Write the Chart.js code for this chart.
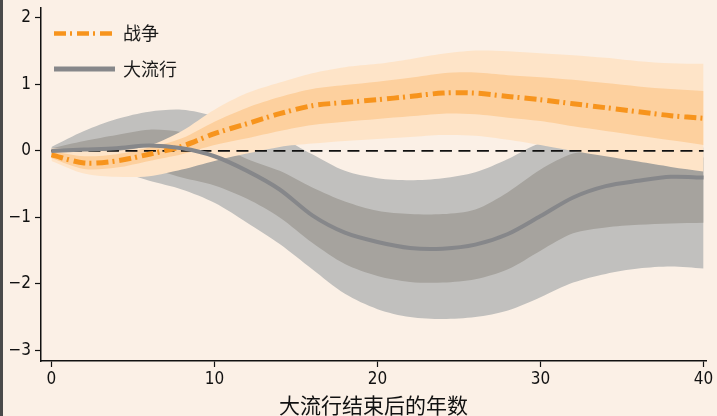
<!DOCTYPE html>
<html><head><meta charset="utf-8">
<script src="https://cdn.jsdelivr.net/npm/chart.js@4/dist/chart.umd.min.js"></script>
<style>html,body{margin:0;padding:0;background:#FBF0E6;}canvas{display:block;}</style>
</head><body>
<canvas id="c" width="717" height="416"></canvas>
<script>
const years = [0,2,4,6,8,10,12,14,16,18,20,22,24,26,28,30,32,34,36,38,40];
const xTicks = [0,10,20,30,40];
const yTicks = [-3,-2,-1,0,1,2];
const seriesNames = ['战争','大流行'];
const xTitle = '大流行结束后的年数';

const warMean    = [-0.06,-0.18,-0.15,-0.05,0.07,0.26,0.41,0.56,0.68,0.73,0.77,0.82,0.87,0.87,0.82,0.77,0.71,0.65,0.59,0.53,0.49];
const warDarkHi  = [0.00,-0.08,-0.05,0.05,0.19,0.44,0.65,0.81,0.93,0.99,1.04,1.10,1.17,1.18,1.14,1.11,1.07,1.02,0.97,0.93,0.90];
const warDarkLo  = [-0.11,-0.27,-0.25,-0.15,-0.05,0.09,0.19,0.30,0.39,0.44,0.48,0.52,0.56,0.55,0.50,0.45,0.37,0.30,0.23,0.16,0.09];
const warLightHi = [0.04,0.01,0.00,0.08,0.30,0.62,0.87,1.03,1.17,1.26,1.31,1.38,1.46,1.51,1.50,1.47,1.44,1.40,1.35,1.32,1.31];
const warLightLo = [-0.15,-0.34,-0.39,-0.38,-0.28,-0.15,-0.04,0.06,0.11,0.15,0.18,0.21,0.24,0.23,0.17,0.09,0.00,-0.08,-0.16,-0.24,-0.31];

const panMean    = [0.00,0.02,0.04,0.08,0.04,-0.08,-0.30,-0.58,-0.97,-1.23,-1.37,-1.46,-1.47,-1.41,-1.25,-0.98,-0.70,-0.53,-0.45,-0.39,-0.40];
const panDarkHi  = [0.04,0.15,0.24,0.32,0.28,0.12,-0.12,-0.30,-0.55,-0.76,-0.90,-0.95,-0.95,-0.88,-0.62,-0.28,-0.04,0.00,0.00,-0.05,-0.10];
const panDarkLo  = [-0.04,-0.10,-0.16,-0.26,-0.40,-0.52,-0.72,-1.00,-1.38,-1.70,-1.88,-1.97,-1.98,-1.93,-1.78,-1.50,-1.24,-1.15,-1.11,-1.09,-1.08];
const panLightHi = [0.06,0.30,0.48,0.59,0.62,0.52,0.30,0.20,-0.05,-0.30,-0.41,-0.44,-0.41,-0.32,-0.12,0.12,0.20,0.20,0.15,0.10,0.05];
const panLightLo = [-0.06,-0.17,-0.30,-0.45,-0.58,-0.78,-1.08,-1.40,-1.78,-2.15,-2.38,-2.50,-2.53,-2.50,-2.40,-2.20,-1.98,-1.85,-1.77,-1.74,-1.77];
const zeroLine = years.map(() => 0);

const C = {
  bg:'#FBF0E6', orange:'#F7941D', gray:'#86878A',
  oLight:'#FEE4C8', oDark:'#FDD09E', gLight:'#C1C0BE', gDark:'#A6A39E'
};
const pts = arr => years.map((x,i) => ({x, y: arr[i]}));
const band = (arr, color, fillTo, order) => ({
  data: pts(arr), borderWidth: 0, pointRadius: 0, tension: 0.3,
  backgroundColor: color, fill: fillTo === null ? false : fillTo, order
});
const TICK_FONT = {family:"'Liberation Sans Narrow','DejaVu Sans Condensed','Arial Narrow',sans-serif", size:17};

const datasets = [
  /*0*/ {label:seriesNames[1], data: pts(panMean), borderColor:C.gray, borderWidth:4, pointRadius:0, tension:0.3, fill:false, order:1},
  /*1*/ {label:seriesNames[0], data: pts(warMean), borderColor:C.orange, borderWidth:5, borderDash:[12,4,2,5], pointRadius:0, tension:0.3, fill:false, order:2},
  /*2*/ {data: pts(zeroLine), borderColor:'#111', borderWidth:1.8, borderDash:[12,6.5], pointRadius:0, tension:0, fill:false, order:3},
  /*3*/ band(warDarkHi, C.oDark, 4, 4),
  /*4*/ band(warDarkLo, C.oDark, null, 4.5),
  /*5*/ band(warLightHi, C.oLight, 6, 5),
  /*6*/ band(warLightLo, C.oLight, null, 5.5),
  /*7*/ band(panDarkHi, C.gDark, 8, 6),
  /*8*/ band(panDarkLo, C.gDark, null, 6.5),
  /*9*/ band(panLightHi, C.gLight, 10, 7),
  /*10*/ band(panLightLo, C.gLight, null, 7.5)
];

const bgPlugin = {
  id:'bg',
  beforeDraw(chart){
    const ctx = chart.ctx;
    ctx.save();
    ctx.fillStyle = C.bg;
    ctx.fillRect(0,0,chart.width,chart.height);
    ctx.fillStyle = '#4a4a4a';
    ctx.fillRect(0,0,3,chart.height);
    ctx.restore();
  }
};
const legendPlugin = {
  id:'customLegend',
  afterDraw(chart){
    const ctx = chart.ctx;
    ctx.save();
    const items = [
      {ds: chart.data.datasets[1], y: 33.5, w:4.5},
      {ds: chart.data.datasets[0], y: 69, w:5}
    ];
    items.forEach(it => {
      ctx.beginPath();
      ctx.strokeStyle = it.ds.borderColor;
      ctx.lineWidth = it.w;
      ctx.setLineDash(it.ds.borderDash || []);
      ctx.moveTo(54, it.y); ctx.lineTo(115, it.y);
      ctx.stroke();
      ctx.setLineDash([]);
      ctx.fillStyle = '#1a1a1a';
      ctx.font = "18px 'Noto Sans CJK SC'";
      ctx.textBaseline = 'middle';
      ctx.textAlign = 'left';
      ctx.fillText(it.ds.label, 123, it.y);
    });
    ctx.restore();
  }
};

new Chart(document.getElementById('c'), {
  type:'line',
  data:{datasets},
  options:{
    responsive:false, animation:false, devicePixelRatio:1,
    layout:{padding:{top:8, right:11, left:0, bottom:0}},
    plugins:{legend:{display:false}, tooltip:{enabled:false}, filler:{propagate:false}},
    scales:{
      x:{type:'linear', min:-0.64, max:40.15,
        afterBuildTicks: s => { s.ticks = xTicks.map(v => ({value:v})); },
        afterFit: s => { s.height = 55; s.paddingLeft = 0; s.paddingRight = 0; },
        border:{display:true, color:'#111', width:1.5},
        grid:{drawOnChartArea:false, drawTicks:true, tickLength:6, color:'#111', tickWidth:1.2},
        ticks:{font:TICK_FONT, color:'#111', padding:2, maxRotation:0},
        title:{display:true, text:xTitle, color:'#111', font:{family:"'Noto Sans CJK SC'", size:21, lineHeight:1}, padding:{top:0,bottom:0}}
      },
      y:{type:'linear', min:-3.16, max:2.15,
        afterBuildTicks: s => { s.ticks = yTicks.map(v => ({value:v})); },
        afterFit: s => { s.width = 41; s.paddingTop = 0; s.paddingBottom = 0; },
        border:{display:true, color:'#111', width:1.5},
        grid:{drawOnChartArea:false, drawTicks:true, tickLength:6, color:'#111', tickWidth:1.2},
        ticks:{font:TICK_FONT, color:'#111', padding:4,
          callback: v => (v < 0 ? '\u2212' + Math.abs(v) : String(v))}
      }
    }
  },
  plugins:[bgPlugin, legendPlugin]
});
</script>
</body></html>
